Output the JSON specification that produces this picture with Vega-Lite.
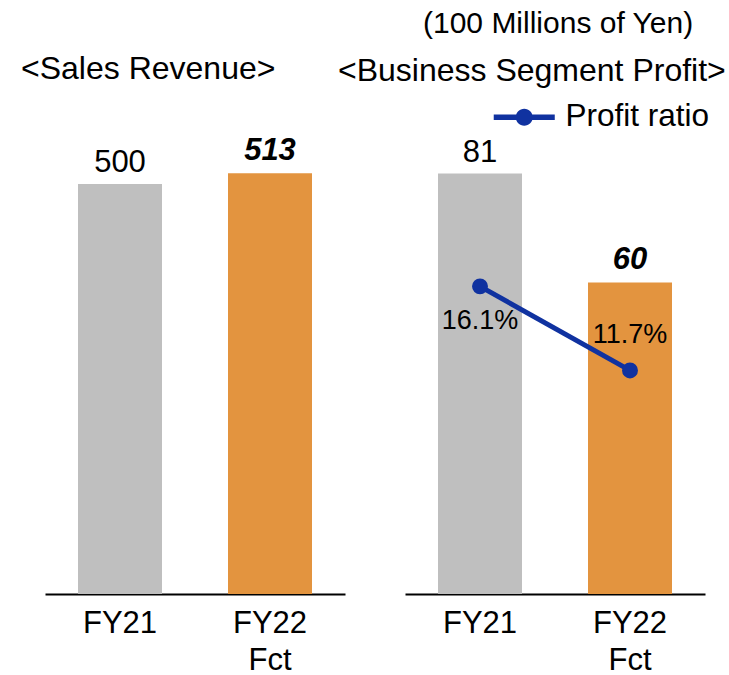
{
  "$schema": "https://vega.github.io/schema/vega-lite/v6.json",
  "background": "white",
  "padding": {"left": 21, "top": 9, "right": 5, "bottom": 0},
  "title": {"text": "(100 Millions of Yen)", "anchor": "start", "frame": "bounds", "dx": 402, "offset": -10, "baseline": "alphabetic", "fontSize": 30, "fontWeight": "normal", "color": "#000000"},
  "datasets": {
    "sales": [
      {"period": "FY21", "value": 500},
      {"period": "FY22 Fct", "value": 513}
    ],
    "profit": [
      {"period": "FY21", "value": 81, "ratio": 0.161, "series": "Profit ratio"},
      {"period": "FY22 Fct", "value": 60, "ratio": 0.117, "series": "Profit ratio"}
    ]
  },
  "bounds": "flush",
  "spacing": 60,
  "hconcat": [
    {
      "width": 300,
      "height": 450,
      "title": {"text": "<Sales Revenue>", "anchor": "start", "frame": "group", "dx": -24, "offset": 24, "baseline": "alphabetic", "fontSize": 32, "fontWeight": "normal", "color": "#000000"},
      "data": {"name": "sales"},
      "encoding": {
        "x": {
          "field": "period", "type": "nominal", "sort": ["FY21", "FY22 Fct"], "title": null,
          "scale": {"paddingInner": 0.44, "paddingOuter": 0.22},
          "axis": {"labelAngle": 0, "labelExpr": "datum.value == 'FY22 Fct' ? ['FY22', 'Fct'] : datum.label", "labelFontSize": 31, "labelColor": "#000000", "labelBaseline": "top", "labelLineHeight": 37, "labelPadding": 14, "ticks": false, "domainColor": "#000000", "domainWidth": 2, "grid": false}
        },
        "y": {"field": "value", "type": "quantitative", "scale": {"domain": [0, 548.8], "nice": false, "zero": true}, "axis": null}
      },
      "layer": [
        {
          "mark": {"type": "bar"},
          "encoding": {"color": {"condition": {"test": "datum.period === 'FY21'", "value": "#BFBFBF"}, "value": "#E3943F"}}
        },
        {
          "transform": [{"filter": "datum.period === 'FY21'"}],
          "mark": {"type": "text", "baseline": "alphabetic", "dy": -12, "fontSize": 31, "color": "#000000"},
          "encoding": {"text": {"field": "value", "type": "quantitative"}}
        },
        {
          "transform": [{"filter": "datum.period === 'FY22 Fct'"}],
          "mark": {"type": "text", "baseline": "alphabetic", "dy": -13, "fontSize": 31, "fontWeight": "bold", "fontStyle": "italic", "color": "#000000"},
          "encoding": {"text": {"field": "value", "type": "quantitative"}}
        }
      ]
    },
    {
      "width": 300,
      "height": 450,
      "title": {"text": "<Business Segment Profit>", "anchor": "start", "frame": "group", "dx": -67, "offset": -11, "baseline": "alphabetic", "fontSize": 32, "fontWeight": "normal", "color": "#000000"},
      "data": {"name": "profit"},
      "encoding": {
        "x": {
          "field": "period", "type": "nominal", "sort": ["FY21", "FY22 Fct"], "title": null,
          "scale": {"paddingInner": 0.44, "paddingOuter": 0.22},
          "axis": {"labelAngle": 0, "labelExpr": "datum.value == 'FY22 Fct' ? ['FY22', 'Fct'] : datum.label", "labelFontSize": 31, "labelColor": "#000000", "labelBaseline": "top", "labelLineHeight": 37, "labelPadding": 14, "ticks": false, "domainColor": "#000000", "domainWidth": 2, "grid": false}
        }
      },
      "layer": [
        {
          "mark": {"type": "bar"},
          "encoding": {
            "y": {"field": "value", "type": "quantitative", "scale": {"domain": [0, 86.7], "nice": false, "zero": true}, "axis": null},
            "color": {"condition": {"test": "datum.period === 'FY21'", "value": "#BFBFBF"}, "value": "#E3943F"}
          }
        },
        {
          "transform": [{"filter": "datum.period === 'FY21'"}],
          "mark": {"type": "text", "baseline": "alphabetic", "dy": -12, "fontSize": 31, "color": "#000000"},
          "encoding": {
            "y": {"field": "value", "type": "quantitative", "scale": {"domain": [0, 86.7], "nice": false, "zero": true}, "axis": null},
            "text": {"field": "value", "type": "quantitative"}
          }
        },
        {
          "transform": [{"filter": "datum.period === 'FY22 Fct'"}],
          "mark": {"type": "text", "baseline": "alphabetic", "dy": -13.5, "fontSize": 31, "fontWeight": "bold", "fontStyle": "italic", "color": "#000000"},
          "encoding": {
            "y": {"field": "value", "type": "quantitative", "scale": {"domain": [0, 86.7], "nice": false, "zero": true}, "axis": null},
            "text": {"field": "value", "type": "quantitative"}
          }
        },
        {
          "mark": {"type": "line", "color": "#1032A0", "strokeWidth": 5},
          "encoding": {
            "y": {"field": "ratio", "type": "quantitative", "scale": {"domain": [0, 0.2355], "nice": false, "zero": true}, "axis": null}
          }
        },
        {
          "mark": {"type": "point", "filled": true, "size": 254, "opacity": 1, "shape": "circle"},
          "encoding": {
            "y": {"field": "ratio", "type": "quantitative", "scale": {"domain": [0, 0.2355], "nice": false, "zero": true}, "axis": null},
            "color": {
              "field": "series", "type": "nominal", "scale": {"range": ["#1032A0"]},
              "legend": {"title": null, "orient": "none", "legendX": 103.5, "legendY": -42.5, "symbolType": "M-3.59,-0.32L3.59,-0.32L3.59,0.32L-3.59,0.32Z M1,0A1,1 0 1,1 -1,0A1,1 0 1,1 1,0Z", "symbolSize": 289, "symbolStrokeWidth": 0, "symbolOpacity": 1, "labelFontSize": 31.5, "labelColor": "#000000", "labelFont": "Liberation Sans", "labelOffset": 25.5, "padding": 0, "labelLimit": 400}
            }
          }
        },
        {
          "transform": [{"filter": "datum.period === 'FY21'"}],
          "mark": {"type": "text", "baseline": "middle", "dy": 35, "fontSize": 27, "color": "#000000"},
          "encoding": {
            "y": {"field": "ratio", "type": "quantitative", "scale": {"domain": [0, 0.2355], "nice": false, "zero": true}, "axis": null},
            "text": {"field": "ratio", "type": "quantitative", "format": ".1%"}
          }
        },
        {
          "transform": [{"filter": "datum.period === 'FY22 Fct'"}],
          "mark": {"type": "text", "baseline": "middle", "dy": -35, "fontSize": 27, "color": "#000000"},
          "encoding": {
            "y": {"field": "ratio", "type": "quantitative", "scale": {"domain": [0, 0.2355], "nice": false, "zero": true}, "axis": null},
            "text": {"field": "ratio", "type": "quantitative", "format": ".1%"}
          }
        }
      ],
      "resolve": {"scale": {"y": "independent"}}
    }
  ],
  "resolve": {"scale": {"color": "independent"}, "legend": {"color": "independent"}},
  "config": {
    "font": "Liberation Sans",
    "view": {"stroke": null},
    "axis": {"labelFont": "Liberation Sans"},
    "title": {"font": "Liberation Sans"}
  }
}
